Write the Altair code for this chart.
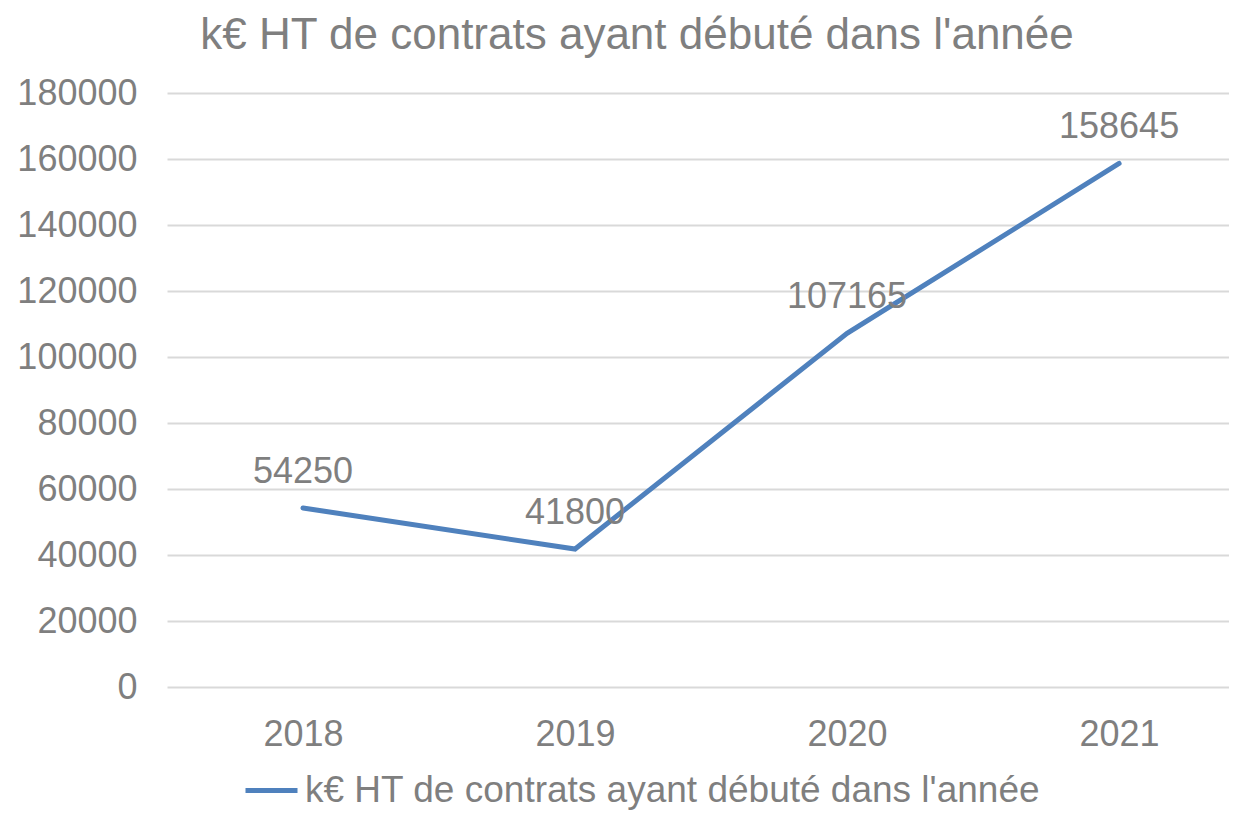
import altair as alt
import pandas as pd

years = [2018, 2019, 2020, 2021]
values = [54250, 41800, 107165, 158645]
series_name = "k€ HT de contrats ayant débuté dans l'année"
y_ticks = [0, 20000, 40000, 60000, 80000, 100000, 120000, 140000, 160000, 180000]

df = pd.DataFrame({"year": years, "value": values, "series": series_name})

FONT = "Liberation Sans"
GRAY = "#7f7f7f"
BLUE = "#4f81bd"

x = alt.X("year:Q",
          scale=alt.Scale(domain=[2017.5, 2021.404], nice=False, zero=False),
          axis=alt.Axis(values=years, format="d", title=None, grid=False,
                        domain=False, ticks=False, labelFontSize=36,
                        labelColor=GRAY, labelFont=FONT, labelPadding=30))
y = alt.Y("value:Q",
          scale=alt.Scale(domain=[0, 180000], nice=False),
          axis=alt.Axis(values=y_ticks, format="d", title=None, domain=False,
                        ticks=False, labelFontSize=36, labelColor=GRAY,
                        labelFont=FONT, labelPadding=30, gridColor="#d9d9d9",
                        gridWidth=2))

line = alt.Chart(df).mark_line(strokeWidth=5, strokeCap="round").encode(
    x=x, y=y,
    color=alt.Color("series:N",
                    scale=alt.Scale(range=[BLUE]),
                    legend=alt.Legend(title=None, orient="none",
                                      legendX=76, legendY=669, padding=0,
                                      symbolType="stroke", symbolSize=2704,
                                      symbolStrokeWidth=5, labelFontSize=37,
                                      labelColor=GRAY, labelFont=FONT,
                                      labelOffset=5, labelLimit=1000))
)

labels = alt.Chart(df).mark_text(fontSize=36, font=FONT, color=GRAY,
                                 baseline="alphabetic", dy=-25).encode(
    x="year:Q", y="value:Q", text=alt.Text("value:Q", format="d"))

chart = alt.layer(line, labels).properties(
    width=1062, height=594,
    title=alt.TitleParams(series_name, fontSize=44, font=FONT, color=GRAY,
                          fontWeight="normal", anchor="middle", dx=-61,
                          offset=17),
    autosize=alt.AutoSizeParams(type="none"),
    padding={"left": 159, "top": 85, "right": 0, "bottom": 124},
).configure_view(stroke=None)

chart.save("out.html", embed_options={"renderer": "svg", "actions": False})
